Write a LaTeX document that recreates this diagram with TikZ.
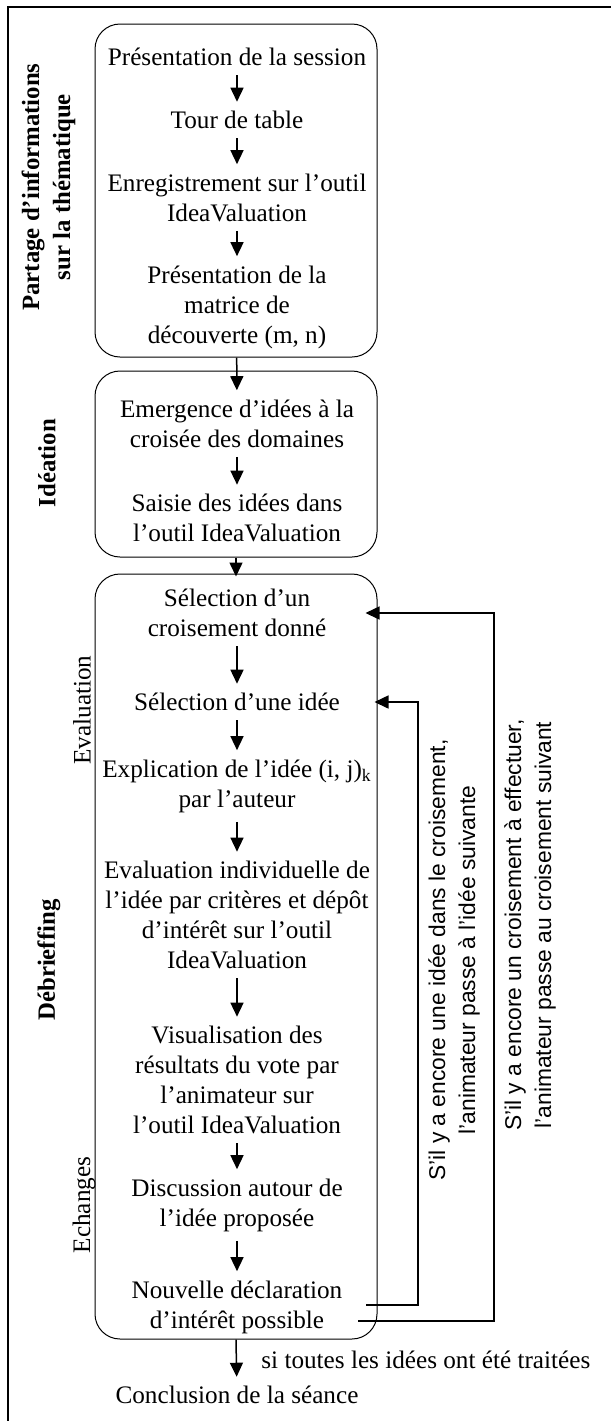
\documentclass[tikz,border=0pt]{standalone}
\usepackage{fontspec}
\setmainfont{Liberation Serif}
\newfontfamily\loopfont{Liberation Sans}
\usetikzlibrary{arrows.meta}

\begin{document}
\begin{tikzpicture}[x=0.5pt,y=-0.5pt,
    frame/.style={line width=1.25pt},
    box/.style={draw,line width=0.5pt,rounded corners=12.5pt,minimum width=141pt},
    txt/.style={align=center,inner xsep=0pt,inner ysep=4.5pt,font=\fontsize{12.6}{15}\selectfont},
    phase/.style={align=center,inner sep=0pt,rotate=90,font=\fontsize{12.4}{15.5}\selectfont\bfseries},
    sub/.style={inner sep=0pt,rotate=90,font=\fontsize{12.6}{15}\selectfont},
    back/.style={align=center,inner sep=0pt,rotate=90,font=\loopfont\fontsize{11.4}{15}\selectfont},
    flow/.style={line width=0.75pt,-{Triangle[length=7pt,width=6.5pt]}}]
    \useasboundingbox (0,0) rectangle (611,1421);
    \draw[frame] (8,1421) -- (8,7) -- (611,7);

    % the three phases
    \node[box,minimum height=166.5pt] (grp1) at (236,190.5) {};
    \node[box,minimum height=93pt] (grp2) at (236,464) {};
    \node[box,minimum height=382.5pt] (grp3) at (236,956.5) {};

    \node[phase] (ph1) at (48.5,187) {Partage d’informations\\sur la thématique};
    \node[phase] (ph2) at (47,463) {Idéation};
    \node[phase] (ph3) at (49,960) {Débrieffing};
    \node[sub] (sub1) at (82,710) {Evaluation};
    \node[sub] (sub2) at (84,1205) {Echanges};

    % steps
    \node[txt] (t1) at (237,57) {Présentation de la session};
    \node[txt] (t2) at (237,120) {Tour de table};
    \node[txt] (t3) at (237,197.5) {Enregistrement sur l’outil\\IdeaValuation};
    \node[txt] (t4) at (237,307) {Présentation de la\\matrice de\\découverte (m, n)};
    \node[txt] (t5) at (237,423.5) {Emergence d’idées à la\\croisée des domaines};
    \node[txt] (t6) at (237,518) {Saisie des idées dans\\l’outil IdeaValuation};
    \node[txt] (t7) at (237,613) {Sélection d’un\\croisement donné};
    \node[txt] (t8) at (237,702) {Sélection d’une idée};
    \node[txt] (t9) at (237,786) {Explication de l’idée (i, j)\textsubscript{k}\\par l’auteur};
    \node[txt] (t10) at (237,915) {Evaluation individuelle de\\l’idée par critères et dépôt\\d’intérêt sur l’outil\\IdeaValuation};
    \node[txt] (t11) at (237,1080) {Visualisation des\\résultats du vote par\\l’animateur sur\\l’outil IdeaValuation};
    \node[txt] (t12) at (237,1205) {Discussion autour de\\l’idée proposée};
    \node[txt] (t13) at (237,1307) {Nouvelle déclaration\\d’intérêt possible};
    \node[txt] (t14) at (237,1395) {Conclusion de la séance};
    \node[txt,anchor=west] (cond) at (261,1360) {si toutes les idées ont été traitées};

    \draw[flow] (t1) -- (t2);
    \draw[flow] (t2) -- (t3);
    \draw[flow] (t3) -- (t4);
    \draw[flow] (grp1) -- (t5);
    \draw[flow] (t5) -- (t6);
    \draw[flow,shorten >=-1.5pt] (grp2) -- (grp3);
    \draw[flow] (t7) -- (t8);
    \draw[flow] (t8) -- (t9);
    \draw[flow] (t9) -- (t10);
    \draw[flow] (t10) -- (t11);
    \draw[flow] (t11) -- (t12);
    \draw[flow] (t12) -- (t13);
    \draw[flow] (grp3.south) -- (t14);

    % loops back
    \coordinate (idea) at (366,1305);
    \coordinate (cross) at (358,1321);
    \draw[flow,line width=0.8pt,shorten >=-1.5pt] (idea) -- (418,1305) |- (grp3.east |- t8);
    \draw[flow,line width=0.8pt,shorten >=-6pt] (cross) -- (494,1321) |- (grp3.east |- t7);
    \node[back] (lbidea) at (454,960) {S’il y a encore une idée dans le croisement,\\l’animateur passe à l’idée suivante};
    \node[back] (lbcross) at (530,925) {S’il y a encore un croisement à effectuer,\\l’animateur passe au croisement suivant};
\end{tikzpicture}
\end{document}
